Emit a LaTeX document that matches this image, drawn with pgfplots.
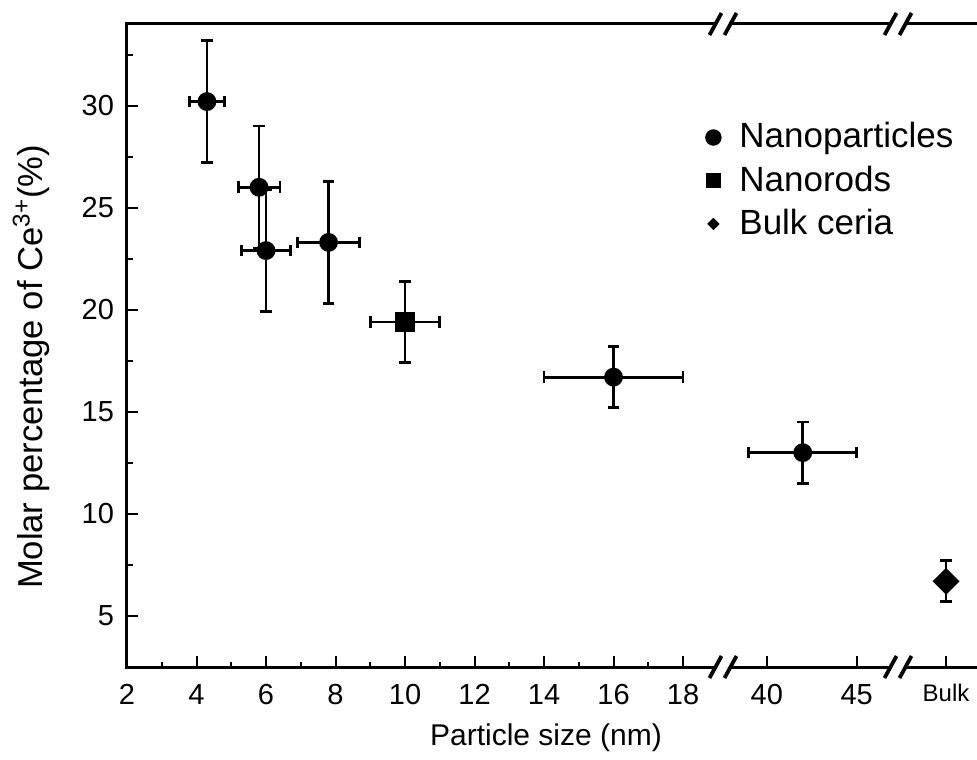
\documentclass[border=0pt]{standalone}
\usepackage{pgfplots}
\pgfplotsset{compat=1.18}
\usepackage{pgfplotstable}
\usepackage{fontspec}
\setmainfont{Liberation Sans}

\pgfplotstableread{
x y ex ey
4.3 30.2 0.5 3
5.8 26.0 0.6 3
6.0 22.9 0.7 3
7.8 23.3 0.9 3
16 16.7 2 1.5
}\nanoA
\pgfplotstableread{
x y ex ey
42 13.0 3 1.5
}\nanoB
\pgfplotstableread{
x y ex ey
10 19.4 1 2
}\rods
\pgfplotstableread{
x y ex ey
0 6.7 0 1
}\bulk

\tikzset{axframe/.style={line width=1.5pt, line cap=rect}}
\pgfplotsset{
  brk/.style={
    scale only axis, height=321.5pt, ymin=2.5, ymax=34, clip=false,
    axis line style={draw=none},
    tick align=inside, tickpos=left,
    major tick length=5.5pt, minor tick length=2.75pt,
    tick style={black, line width=1pt},
    tick label style={font=\fontsize{14.5}{16}\selectfont},
    xticklabel style={yshift=-5pt},
    yticklabel style={xshift=-3pt},
    /pgf/number format/assume math mode=true,
  },
  pts/.style={only marks, black, mark=*, mark size=4pt, line width=1.4pt,
    error bars/x dir=both, error bars/x explicit,
    error bars/y dir=both, error bars/y explicit,
    error bars/error bar style={line width=1.4pt, black},
    error bars/error mark options={rotate=90, black, line width=1.4pt, mark size=2.9pt}},
}

\begin{document}
\begin{tikzpicture}
% segment 1
\begin{axis}[brk, name=s1, at={(0,0)}, anchor=south west, width=298pt,
  xmin=2, xmax=19.15,
  xtick={2,4,...,18}, minor xtick={3,5,...,17},
  ytick={5,10,...,30}, minor ytick={2.5,7.5,...,32.5},
  xlabel={Particle size (nm)},
  ylabel={Molar percentage of Ce\textsuperscript{3+}(\%)},
  xlabel style={at={(axis description cs:0.703,-0.110)}, anchor=center, font=\fontsize{15}{18}\selectfont},
  ylabel style={at={(axis description cs:-0.161,0.4666)}, anchor=center, font=\fontsize{17.3}{20}\selectfont},
  legend cell align=left,
  legend image code/.code={\draw[#1] plot coordinates {(0pt,0.8pt)}; \path[draw=none,fill=none] (-4pt,0pt) (13pt,0pt);},
  legend style={at={(axis description cs:0.9698,0.8476)}, anchor=north west, draw=none, fill=none,
    font=\fontsize{17.5}{20}\selectfont, row sep=4.9pt, column sep=0pt, inner sep=0pt,
    nodes={inner sep=0pt, text height=12.8pt, text depth=3.9pt}},
]
\addlegendimage{only marks, black, mark=*, mark size=3.9pt}
\addlegendentry{Nanoparticles}
\addlegendimage{only marks, black, mark=square*, mark size=3.5pt}
\addlegendentry{Nanorods}
\addlegendimage{only marks, black, mark=square*, mark size=2pt, mark options={rotate=45}}
\addlegendentry{Bulk ceria}
\draw[axframe] (rel axis cs:1,1) -- (rel axis cs:0,1) -- (rel axis cs:0,0) -- (rel axis cs:1,0);
\addplot[forget plot, pts] table[x=x, y=y, x error=ex, y error=ey] {\nanoA};
\addplot[forget plot, pts, mark=square*, mark size=4.25pt] table[x=x, y=y, x error=ex, y error=ey] {\rods};
\end{axis}
% segment 2
\begin{axis}[brk, name=s2, at={(298pt,0)}, anchor=south west, width=87.5pt,
  xmin=37.56, xmax=47.3, xtick={40,45}, ytick=\empty]
\draw[axframe] (rel axis cs:0,1) -- (rel axis cs:1,1);
\draw[axframe] (rel axis cs:0,0) -- (rel axis cs:1,0);
\addplot[pts] table[x=x, y=y, x error=ex, y error=ey] {\nanoB};
\end{axis}
% segment 3
\begin{axis}[brk, name=s3, at={(385.5pt,0)}, anchor=south west, width=39.5pt,
  xmin=-48, xmax=31, xtick={0}, xticklabels={Bulk}, ytick=\empty,
  xticklabel style={font=\fontsize{12}{14}\selectfont}]
\draw[axframe] (rel axis cs:0,1) -- (rel axis cs:1,1);
\draw[axframe] (rel axis cs:0,0) -- (rel axis cs:1,0);
\addplot[pts, mark=square*, mark size=4.07pt, mark options={rotate=45}] table[x=x, y=y, x error=ex, y error=ey] {\bulk};
\end{axis}
% axis breaks
\foreach \p in {s1.south east, s1.north east, s2.south east, s2.north east} {
  \begin{scope}[shift={(\p)}]
    \fill[white] (-6.75pt,-5pt) -- (-0.75pt,5pt) -- (6.75pt,5pt) -- (0.75pt,-5pt) -- cycle;
    \draw[line width=1.9pt] (-6.75pt,-5.5pt) -- (-0.75pt,5.5pt);
    \draw[line width=1.9pt] (0.75pt,-5.5pt) -- (6.75pt,5.5pt);
  \end{scope}
}
\pgfresetboundingbox
\path (-63.5pt,-46pt) rectangle (425pt,333.5pt);
\end{tikzpicture}
\end{document}
